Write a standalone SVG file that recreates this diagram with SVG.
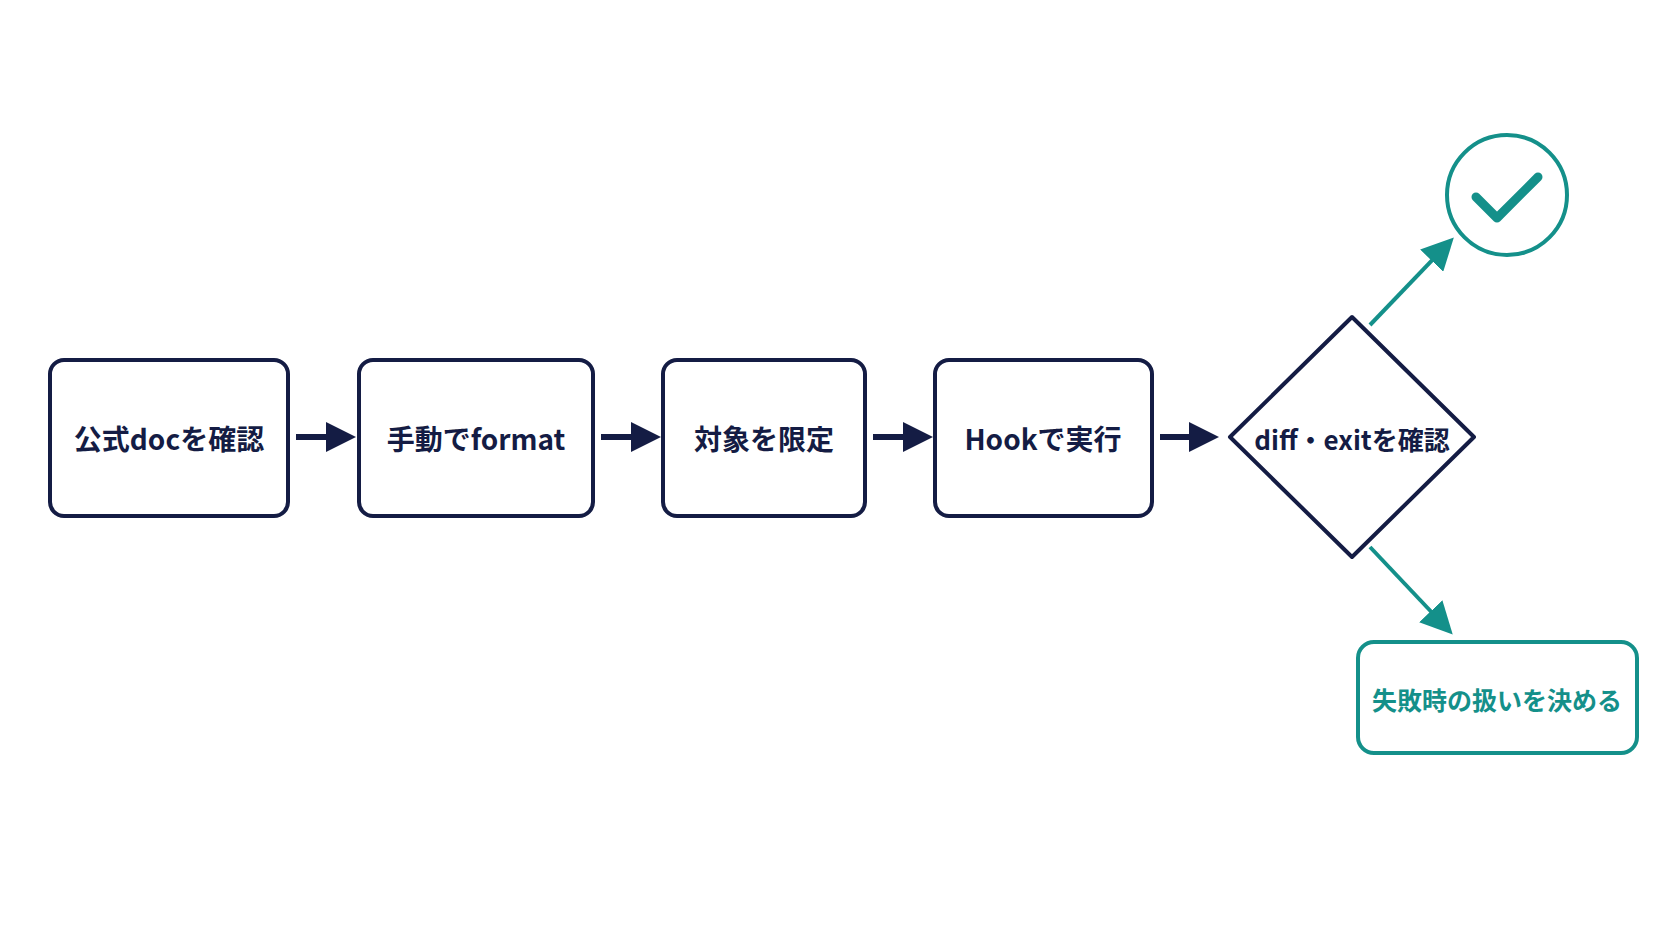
<svg xmlns="http://www.w3.org/2000/svg" width="1672" height="941" viewBox="0 0 1672 941">
<style>
.n{fill:#fff;stroke:#141c44;stroke-width:4}
.g{fill:#fff;stroke:#14908a;stroke-width:4}
.t{font-family:"Noto Sans CJK JP","Noto Sans",sans-serif;font-weight:700;font-size:28px;fill:#141c44;text-anchor:middle;dominant-baseline:central}
.tg{fill:#14908a}
.c{stroke:#141c44;stroke-width:6;fill:none}
.cg{stroke:#14908a;stroke-width:4;fill:none}
</style>
<defs>
<marker id="a" markerWidth="5" markerHeight="5" refX="2" refY="2.5" orient="auto" markerUnits="strokeWidth"><path d="M0,0L5,2.5L0,5z" fill="#141c44"/></marker>
<marker id="ag" markerWidth="8" markerHeight="8" refX="3" refY="4" orient="auto" markerUnits="strokeWidth"><path d="M0,0L8,4L0,8z" fill="#14908a"/></marker>
</defs>
<rect width="1672" height="941" fill="#fff"/>
<g id="n1"><rect class="n" x="50" y="360" width="238" height="156" rx="14"/><text class="t" x="169" y="438">公式docを確認</text></g>
<g id="n2"><rect class="n" x="359" y="360" width="234" height="156" rx="14"/><text class="t" x="476" y="438">手動でformat</text></g>
<g id="n3"><rect class="n" x="663" y="360" width="202" height="156" rx="14"/><text class="t" x="764" y="438">対象を限定</text></g>
<g id="n4"><rect class="n" x="935" y="360" width="217" height="156" rx="14"/><text class="t" x="1043" y="438">Hookで実行</text></g>
<g id="n5"><path class="n" stroke-linejoin="round" d="M1352,317L1474,437L1352,557L1230,437Z"/><text class="t" x="1352" y="438" style="font-size:26px">diff・exitを確認</text></g>
<g id="n6"><circle class="g" cx="1507" cy="195" r="60"/><path d="M1476,197L1497,218L1538,177" fill="none" stroke="#14908a" stroke-width="9" stroke-linecap="round" stroke-linejoin="round"/></g>
<g id="n7"><rect class="g" x="1358" y="642" width="279" height="111" rx="16"/><text class="t tg" x="1497" y="699" style="font-size:25px">失敗時の扱いを決める</text></g>
<g id="connectors">
<path class="c" marker-end="url(#a)" d="M296,437H338"/>
<path class="c" marker-end="url(#a)" d="M601,437H643"/>
<path class="c" marker-end="url(#a)" d="M873,437H915"/>
<path class="c" marker-end="url(#a)" d="M1160,437H1201"/>
<path class="cg" marker-end="url(#ag)" d="M1370,325L1440,252"/>
<path class="cg" marker-end="url(#ag)" d="M1370,547L1439,620"/>
</g>
</svg>
